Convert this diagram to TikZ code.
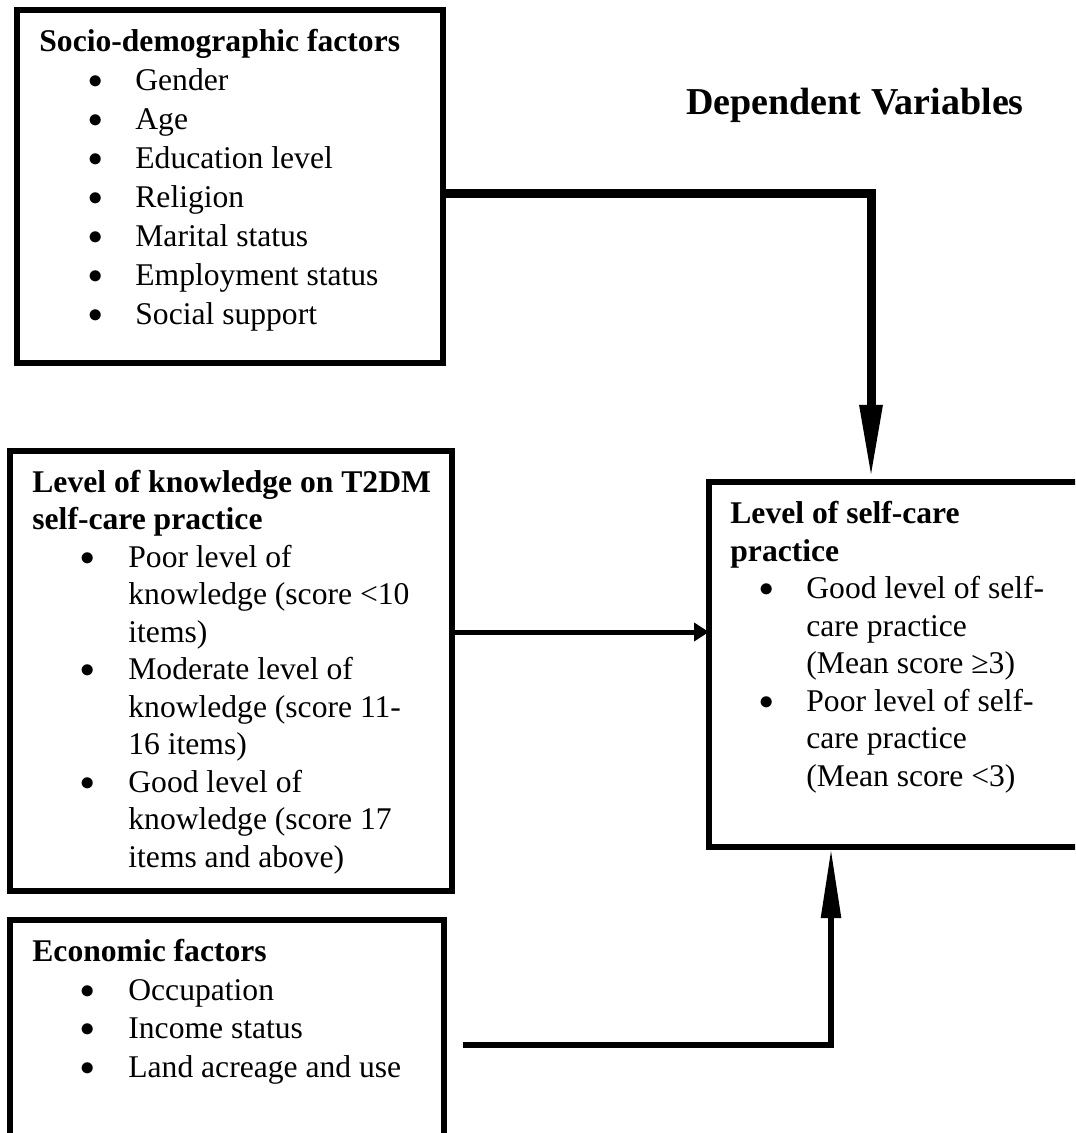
\documentclass[tikz,border=0pt]{standalone}
\usepackage{fontspec}
\setmainfont{Liberation Serif}
\usetikzlibrary{arrows.meta,positioning}

% bullet: space to bullet centre, then space to the text
\newcommand{\itm}[2]{\hspace*{#1}\makebox[0pt]{\raisebox{1pt}{$\bullet$}}\hspace*{#2}}

\begin{document}
\begin{tikzpicture}[x=0.5pt, y=-0.5pt,
    box/.style={draw, line width=3pt, outer sep=0pt, inner sep=0pt, anchor=north west},
    boxtext/.style={align=left, inner sep=0pt, anchor=base west,
        font=\fontsize{15.8pt}{18.75pt}\selectfont},
    toparrow/.style={line width=4.5pt, -{Triangle[length=37.5pt, width=10.5pt]}},
    midarrow/.style={line width=2.5pt, -{Triangle[length=7.5pt, width=9pt]}},
    lowarrow/.style={line width=2.75pt, -{Triangle[length=34.5pt, width=9.5pt]}}]

    \useasboundingbox (0,0) rectangle (1075,1133);
    \clip (0,0) rectangle (1075,1133);

    % Boxes
    \node[box, minimum width=213pt, minimum height=176.5pt] (socio) at (17,10) {};
    \node[box, minimum width=221.25pt, minimum height=220pt] (knowledge) at (9.5,451) {};
    \node[box, minimum width=217.25pt, minimum height=125pt] (econ) at (9.5,920) {};
    \node[box, minimum width=200pt, minimum height=182.5pt] (selfcare) at (709,482) {};

    % Title
    \node[anchor=base, inner sep=0pt, font=\fontsize{19pt}{23pt}\selectfont\bfseries]
        (depvar) at (855,115) {Dependent Variables};

    % Box texts (placed at the baseline of their last line)
    \node[boxtext, font=\fontsize{15.8pt}{19.5pt}\selectfont] (sociotext) at (39,325) {%
        \textbf{Socio-demographic factors}\\
        \itm{28pt}{20pt}Gender\\
        \itm{28pt}{20pt}Age\\
        \itm{28pt}{20pt}Education level\\
        \itm{28pt}{20pt}Religion\\
        \itm{28pt}{20pt}Marital status\\
        \itm{28pt}{20pt}Employment status\\
        \itm{28pt}{20pt}Social support};

    \node[boxtext] (knowtext) at (32,867) {%
        \textbf{Level of knowledge on T2DM}\\
        \textbf{self-care practice}\\
        \itm{27.5pt}{20.5pt}Poor level of\\
        \hspace*{48pt}knowledge (score <10\\
        \hspace*{48pt}items)\\
        \itm{27.5pt}{20.5pt}Moderate level of\\
        \hspace*{48pt}knowledge (score 11-\\
        \hspace*{48pt}16 items)\\
        \itm{27.5pt}{20.5pt}Good level of\\
        \hspace*{48pt}knowledge (score 17\\
        \hspace*{48pt}items and above)};

    \node[boxtext, font=\fontsize{15.8pt}{19.2pt}\selectfont] (econtext) at (32,1077) {%
        \textbf{Economic factors}\\
        \itm{27.5pt}{20.5pt}Occupation\\
        \itm{27.5pt}{20.5pt}Income status\\
        \itm{27.5pt}{20.5pt}Land acreage and use};

    \node[boxtext] (selftext) at (730,786) {%
        \textbf{Level of self-care}\\
        \textbf{practice}\\
        \itm{18pt}{20pt}Good level of self-\\
        \hspace*{38pt}care practice\\
        \hspace*{38pt}(Mean score ≥3)\\
        \itm{18pt}{20pt}Poor level of self-\\
        \hspace*{38pt}care practice\\
        \hspace*{38pt}(Mean score <3)};

    % Connectors
    \coordinate (sout) at ([yshift=-3.75pt]socio.east);
    \coordinate (drop) at (871,480);
    \draw[toparrow] (sout) -| (drop);

    \coordinate (kout) at ([yshift=19.5pt]knowledge.east);
    \draw[midarrow] (kout) -- (kout -| selfcare.west);

    \coordinate (eout) at ([xshift=9.5pt]econ.east);
    \coordinate (rise) at (831,849);
    \draw[lowarrow] (eout) -| (rise);

\end{tikzpicture}
\end{document}
